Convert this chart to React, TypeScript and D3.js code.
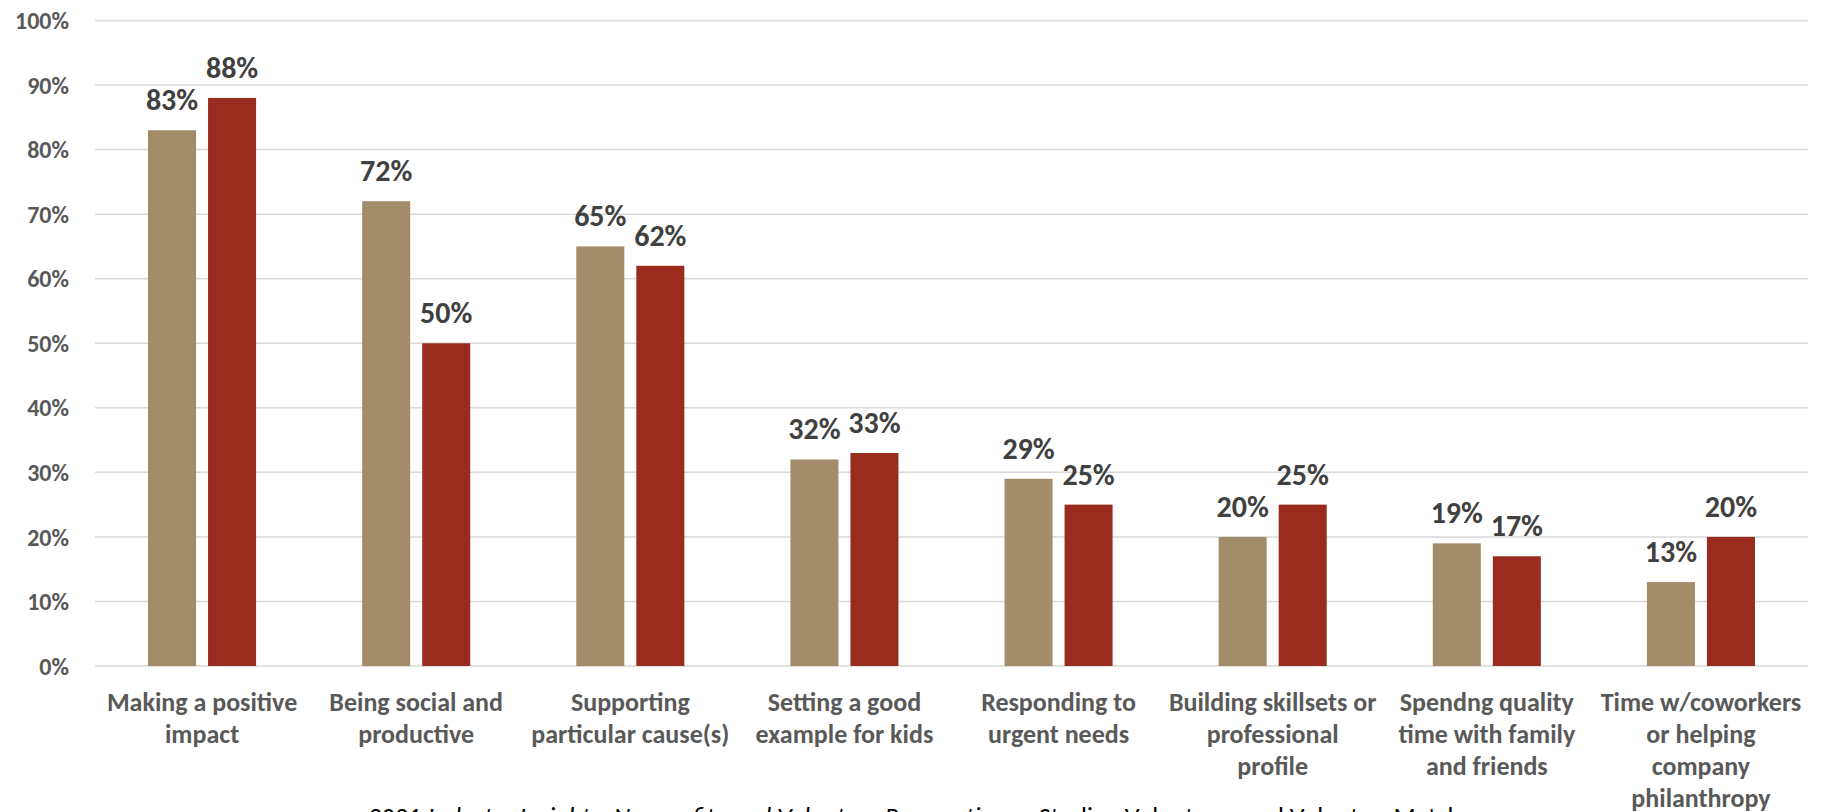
import React from "react";
import * as d3 from "d3";

const categories: string[][] = [
  ["Making a positive", "impact"],
  ["Being social and", "productive"],
  ["Supporting", "particular cause(s)"],
  ["Setting a good", "example for kids"],
  ["Responding to", "urgent needs"],
  ["Building skillsets or", "professional", "profile"],
  ["Spendng quality", "time with family", "and friends"],
  ["Time w/coworkers", "or helping", "company", "philanthropy"],
];
const seriesNames = ["Series A", "Series B"];
const seriesA = [83, 72, 65, 32, 29, 20, 19, 13];
const seriesB = [88, 50, 62, 33, 25, 25, 17, 20];
const yTicks = [0, 10, 20, 30, 40, 50, 60, 70, 80, 90, 100];
const colors = ["#A28C6A", "#992C1F"];

const W = 1825;
const H = 812;
const FONT = "Carlito, Calibri, Lato, 'Open Sans', sans-serif";

export default function App() {
  const keys = categories.map((c) => c.join(" "));
  const x0 = d3
    .scaleBand<string>()
    .domain(keys)
    .range([95, 1808])
    .paddingInner(106 / 214)
    .paddingOuter(53 / 214);
  const x1 = d3
    .scaleBand<string>()
    .domain(seriesNames)
    .range([0, x0.bandwidth()])
    .paddingInner(0.2);
  const y = d3.scaleLinear().domain([0, 100]).range([666, 20.5]);
  const series = [seriesA, seriesB];

  return (
    <svg
      width={W}
      height={H}
      style={{ position: "absolute", left: 0, top: 0, display: "block", background: "#fff" }}
      fontFamily={FONT}
    >
      {yTicks.map((t) => (
        <g key={t}>
          <line x1={95} x2={1808} y1={y(t)} y2={y(t)} stroke="#D9D9D9" strokeWidth={1.5} />
          <text
            x={69}
            y={y(t)}
            dy="0.36em"
            textAnchor="end"
            fontSize={24}
            fontWeight={700}
            fill="#595959"
          >
            {t}%
          </text>
        </g>
      ))}
      {keys.map((k, i) => (
        <g key={k} transform={`translate(${x0(k)},0)`}>
          {series.map((s, j) => (
            <g key={j}>
              <rect
                x={x1(seriesNames[j])}
                width={x1.bandwidth()}
                y={y(s[i])}
                height={y(0) - y(s[i])}
                fill={colors[j]}
              />
              <text
                x={(x1(seriesNames[j]) as number) + x1.bandwidth() / 2}
                y={y(s[i]) - 20}
                textAnchor="middle"
                fontSize={30}
                fontWeight={700}
                fill="#404040"
              >
                {s[i]}%
              </text>
            </g>
          ))}
          {categories[i].map((line, li) => (
            <text
              key={li}
              x={x0.bandwidth() / 2}
              y={711 + li * 32}
              textAnchor="middle"
              fontSize={26}
              fontWeight={700}
              fill="#595959"
            >
              {line}
            </text>
          ))}
        </g>
      ))}
      <text x={915} y={826} textAnchor="middle" fontSize={26} fill="#000">
        2021{" "}
        <tspan fontStyle="italic">Industry Insights: Nonprofits and Volunteer Perspectives</tspan>
        {" – Sterling Volunteers and VolunteerMatch"}
      </text>
    </svg>
  );
}
